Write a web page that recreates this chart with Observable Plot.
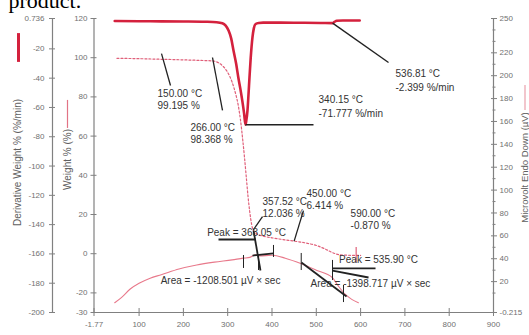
<!DOCTYPE html>
<html><head><meta charset="utf-8">
<script src="https://cdn.jsdelivr.net/npm/d3@7"></script>
<script src="https://cdn.jsdelivr.net/npm/@observablehq/plot@0.6"></script>
<style>html,body{margin:0;padding:0;background:#fff;}#chart{width:529px;height:335px;overflow:hidden;}</style>
</head><body><div id="chart"></div>
<script>
// ---- data (temperature °C, value) ----
const derivPts = [[45,-1.0],[100,-1.1],[150,-1.2],[200,-1.3],[250,-1.5],[275,-1.8],[288,-2.5],[295,-4],[302,-7.5],[308,-13],[313,-21],[319,-30],[324,-39.5],[329,-48],[333,-55.5],[337,-64],[340.15,-71.777],[342,-69],[344.7,-62],[347,-51],[349.2,-39.5],[352,-26],[356,-12],[359,-6],[363,-3],[370,-2.3],[380,-2.1],[420,-2.1],[470,-2.2],[510,-2.3],[536.81,-2.399],[541,-1.6],[546,-0.8],[560,-0.6],[598,-0.6]];
const weightPts = [[50,99.7],[100,99.5],[150,99.195],[200,98.9],[240,98.6],[266,98.368],[280,97.3],[290,95.5],[300,92.5],[310,87.5],[318,81.5],[324,75.5],[329,68],[334,58],[338,49],[342,39],[346,29],[350,21],[354,15],[357.52,12.036],[365,10.2],[380,9],[400,8.1],[425,7.2],[450,6.414],[480,5.3],[500,4.2],[520,2.4],[537,0.5],[555,-0.6],[590,-0.870],[600,-0.9]];
const dtaPts = [[45,1.5],[60,6],[80,13.5],[100,18.5],[125,23],[150,26],[190,31],[230,34.5],[270,37],[310,39],[335,40.5],[350,41.2],[363.05,43.5],[372,42.5],[400,43],[430,40.5],[465,35.8],[500,30],[536,23.6],[550,16],[565,9],[580,4.5],[595,1.5]];

// ---- axes ----
const xDomain = [-1.77, 900];
const xTicks = [-1.77, 100, 200, 300, 400, 500, 600, 700, 800, 900];
const weightDomain = [-30, 120];
const weightTicks = [120, 100, 80, 60, 40, 20, 0, -20, -30];
const derivDomain = [-200, 0.736];
const derivTicks = [0.736, -20, -40, -60, -80, -100, -120, -140, -160, -180, -200];
const dtaDomain = [-7, 250];
const dtaTicks = [250, 220, 200, 180, 160, 140, 120, 100, 80, 60, 40, 20, -7];
const dtaTickLabels = ["250","220","200","180","160","140","120","100","80","60","40","20","-0.215"];
const dtaMinor = [10,30,50,70,90,110,130,150,170,190,210,230,240];

// ---- annotations ----
const weightLeaders = [[150.6,102.1,170.9,85.8],[265.7,100.1,288.3,73.1],[357.52,12.036,378.6,18.9],[450,6.414,471,22]];
const weightLabels = [
  {T:141.6, w:78.9, text:"150.00 °C\n99.195 %"},
  {T:216, w:61.6, text:"266.00 °C\n98.368 %"},
  {T:378.6, w:23.6, text:"357.52 °C\n12.036 %"},
  {T:478, w:27.7, text:"450.00 °C\n6.414 %"},
  {T:577.4, w:17.4, text:"590.00 °C\n-0.870 %"}
];
const weightMarks = [[590, 3.2, -4.5]];
const derivLeaders = [[340.15,-71.777,493.7,-71.777],[536.81,-2.399,663,-29.3]];
const derivLabels = [
  {T:505, v:-59.0, text:"340.15 °C\n-71.777 %/min"},
  {T:678.8, v:-40.9, text:"536.81 °C\n-2.399 %/min"}
];
const dtaLines = [[279.3,56.8,362.8,56.8],[358.3,64.7,374,29.7],[356,42.8,403.4,44.6],[466.5,36.7,568.3,7.0],[536.6,31.5,633.7,31.5],[536.6,29.7,617.9,23.6]];
const dtaMarks = [[335.7,42.8,31.5],[369.6,42.8,29.7],[403.4,51.6,41.1],[466,44.6,29.7],[536.6,38.5,21],[561.4,16.6,1.7]];
const dtaLabels = [
  {T:342.5, v:62.9, text:"Peak = 363.05 °C", anchor:"end"},
  {T:283.8, v:21.0, text:"Area = -1208.501 µV × sec", anchor:"start"},
  {T:640.4, v:39.3, text:"Peak = 535.90 °C", anchor:"start"},
  {T:622.3, v:18.4, text:"Area = -1398.717 µV × sec", anchor:"start"}
];
// legend swatches beside axis titles (extent in weight-axis units)
const swatches = [
  {x:-1.77, y1:112.3, y2:97.6, dx:-75.5, stroke:"#d4213d", w:3},
  {x:-1.77, y1:78.2, y2:63.9, dx:-26.5, stroke:"#e27385", w:1.2},
  {x:900, y1:85.8, y2:73.1, dx:31.5, stroke:"#e9a0ac", w:1.2}
];

// secondary scales mapped onto the primary (weight) scale
const yD = d3.scaleLinear().domain(derivDomain).range(weightDomain);
const yM = d3.scaleLinear().domain(dtaDomain).range(weightDomain);
const dLab = new Map(derivTicks.map(t => [yD(t), String(t)]));
const mLab = new Map(dtaTicks.map((t,i) => [yM(t), dtaTickLabels[i]]));

const RED = "#d4213d", PINK = "#e0607a", DTA = "#e8798b", INK = "#222", AX = "#808080", TXT = "#707070";
const annFont = 10;

const chart = Plot.plot({
  width: 529, height: 335,
  marginLeft: 93.5, marginRight: 36, marginTop: 18, marginBottom: 23,
  x: {domain: xDomain, axis: null},
  y: {domain: weightDomain, axis: null, label: null},
  style: {fontFamily: "Liberation Sans, Arial, sans-serif", background: "#fff"},
  marks: [
    // series
    Plot.line(dtaPts, {x: d => d[0], y: d => yM(d[1]), stroke: DTA, strokeWidth: 1.1, curve: "monotone-x"}),
    Plot.line(weightPts, {x: d => d[0], y: d => d[1], stroke: PINK, strokeWidth: 1.2, strokeDasharray: "2,2", curve: "monotone-x"}),
    Plot.line(derivPts, {x: d => d[0], y: d => yD(d[1]), stroke: RED, strokeWidth: 2.6, curve: "monotone-x"}),
    // annotations
    Plot.ruleX(weightMarks, {x: d => d[0], y1: d => d[1], y2: d => d[2], stroke: PINK, strokeWidth: 1.2}),
    Plot.link(weightLeaders, {x1: d => d[0], y1: d => d[1], x2: d => d[2], y2: d => d[3], stroke: INK, strokeWidth: 1.3}),
    Plot.link(derivLeaders, {x1: d => d[0], y1: d => yD(d[1]), x2: d => d[2], y2: d => yD(d[3]), stroke: INK, strokeWidth: 1.4}),
    Plot.link(dtaLines, {x1: d => d[0], y1: d => yM(d[1]), x2: d => d[2], y2: d => yM(d[3]), stroke: INK, strokeWidth: 1.8}),
    Plot.ruleX(dtaMarks, {x: d => d[0], y1: d => yM(d[1]), y2: d => yM(d[2]), stroke: INK, strokeWidth: 1}),
    Plot.text(weightLabels, {x: "T", y: "w", text: "text", textAnchor: "start", lineHeight: 1.2, fontSize: annFont, fill: "#333"}),
    Plot.text(derivLabels, {x: "T", y: d => yD(d.v), text: "text", textAnchor: "start", lineHeight: 1.4, fontSize: annFont, fill: "#333"}),
    Plot.text(dtaLabels, {x: "T", y: d => yM(d.v), text: "text", textAnchor: d => d.anchor, fontSize: annFont, fill: "#333"}),
    // axis lines
    Plot.ruleX([xDomain[0]], {stroke: AX, strokeWidth: 1.2}),
    Plot.ruleX([xDomain[0]], {dx: -41.5, stroke: AX, strokeWidth: 1.2}),
    Plot.ruleX([xDomain[1]], {stroke: AX, strokeWidth: 1.2}),
    Plot.ruleY([weightDomain[0]], {stroke: AX, strokeWidth: 1.2}),
    // axes
    Plot.axisY(weightTicks, {anchor: "left", label: null, tickSize: 6, dx: 3, tickPadding: 3.5, fontSize: 8, stroke: AX, fill: TXT, tickFormat: d => String(d)}),
    Plot.axisY(derivTicks.map(yD), {anchor: "left", label: null, tickSize: 6, dx: -38.5, tickPadding: 5, fontSize: 8, stroke: AX, fill: TXT, tickFormat: v => dLab.get(v)}),
    Plot.axisY(dtaTicks.map(yM), {anchor: "right", label: null, tickSize: 6, dx: -3, tickPadding: 3, fontSize: 8, stroke: AX, fill: TXT, tickFormat: v => mLab.get(v)}),
    Plot.axisY(dtaMinor.map(yM), {anchor: "right", label: null, tickSize: 3, dx: -1.5, fontSize: 8, stroke: AX, tickFormat: () => ""}),
    Plot.axisX(xTicks, {anchor: "bottom", label: null, tickSize: 8, dy: -4, tickPadding: 5, fontSize: 8, stroke: AX, fill: TXT, tickFormat: d => String(d)}),
    // axis titles and swatches
    ...swatches.map(s => Plot.ruleX([s], {x: "x", y1: "y1", y2: "y2", dx: s.dx, stroke: s.stroke, strokeWidth: s.w})),
    Plot.text(["Derivative Weight % (%/min)"], {frameAnchor: "left", dx: -76.5, dy: -3, rotate: -90, textAnchor: "middle", lineAnchor: "middle", fontSize: 10, fill: "#606060"}),
    Plot.text(["Weight % (%)"], {frameAnchor: "left", dx: -26.5, dy: -6, rotate: -90, textAnchor: "middle", lineAnchor: "middle", fontSize: 10, fill: "#606060"}),
    Plot.text(["Microvolt Endo Down (µV)"], {frameAnchor: "right", dx: 31.5, dy: 2, rotate: -90, textAnchor: "middle", lineAnchor: "middle", fontSize: 9.5, fill: "#606060"}),
    Plot.text(["product."], {frameAnchor: "top-left", dx: -85.5, dy: -11, lineAnchor: "bottom", textAnchor: "start", fontSize: 22, fontFamily: "Liberation Serif, Times New Roman, serif", fill: "#000"})
  ]
});
document.getElementById("chart").appendChild(chart);
</script></body></html>
